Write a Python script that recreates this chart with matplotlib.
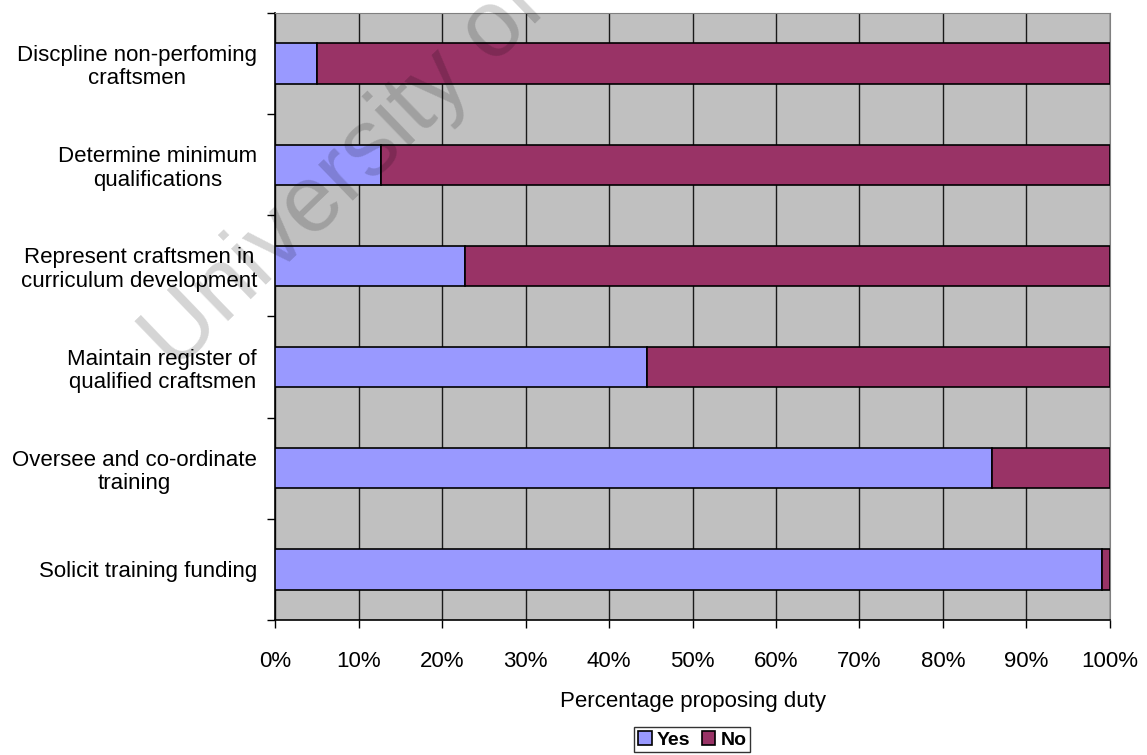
import numpy as np
import matplotlib
matplotlib.use('Agg')
import matplotlib.pyplot as plt

plt.rcParams['font.family'] = ['Liberation Sans', 'DejaVu Sans']

### data (bottom to top)
duties = ['Solicit training funding',
          'Oversee and co-ordinate\ntraining',
          'Maintain register of\nqualified craftsmen',
          'Represent craftsmen in\ncurriculum development',
          'Determine minimum\nqualifications',
          'Discpline non-perfoming\ncraftsmen']
yes_pct = [99.0, 85.9, 44.6, 22.7, 12.7, 5.0]
no_pct = [100 - v for v in yes_pct]
xticks = list(range(0, 101, 10))

fig = plt.figure(figsize=(11.47, 7.55), dpi=100)
ax = fig.add_axes([0.2398, 0.1788, 0.7279, 0.8040])
ax.set_facecolor('#C0C0C0')

y = np.arange(len(duties))
ax.barh(y, yes_pct, height=0.4, color='#9999FF', edgecolor='black', linewidth=1.2, label='Yes', zorder=3)
ax.barh(y, no_pct, left=yes_pct, height=0.4, color='#993366', edgecolor='black', linewidth=1.2, label='No', zorder=3)

ax.set_xlim(0, 100)
ax.set_ylim(-0.5, len(duties) - 0.5)
ax.set_xticks(xticks)
ax.set_xticklabels(['%d%%' % t for t in xticks], fontsize=16)
ax.tick_params(axis='x', direction='out', length=6, width=1, pad=16)

# category labels between the boundary ticks
ax.set_yticks(np.arange(-0.5, len(duties), 1.0))
ax.set_yticklabels([])
ax.set_yticks(y, minor=True)
ax.set_yticklabels(duties, minor=True, fontsize=16, ha='right', multialignment='center',
                   linespacing=1.15)
ax.tick_params(axis='y', which='minor', length=0, pad=13)
ax.tick_params(axis='y', which='major', direction='out', length=6, width=1)

ax.grid(axis='x', color='#1a1a1a', linewidth=1, zorder=1)
ax.set_axisbelow(True)

for s in ['top', 'right']:
    ax.spines[s].set_color('#808080')
for s in ['left', 'bottom']:
    ax.spines[s].set_color('black')
    ax.spines[s].set_linewidth(1.2)

ax.set_xlabel('Percentage proposing duty', fontsize=16, labelpad=14)

leg = fig.legend(loc='upper center', bbox_to_anchor=(0.6035, 0.037), ncol=2,
                 prop={'weight': 'bold', 'size': 14}, frameon=True, fancybox=False,
                 handlelength=0.7, handleheight=0.7, handletextpad=0.25,
                 columnspacing=0.6, borderpad=0.2, borderaxespad=0)
leg.get_frame().set_edgecolor('black')
leg.get_frame().set_linewidth(1)

# watermark
fig.text(0.1526, 0.507, 'University of Cape Town', fontsize=68, color='black', alpha=0.17,
         rotation=44, rotation_mode='anchor', ha='left', va='baseline', zorder=10)

plt.savefig('out.png', dpi=100)
